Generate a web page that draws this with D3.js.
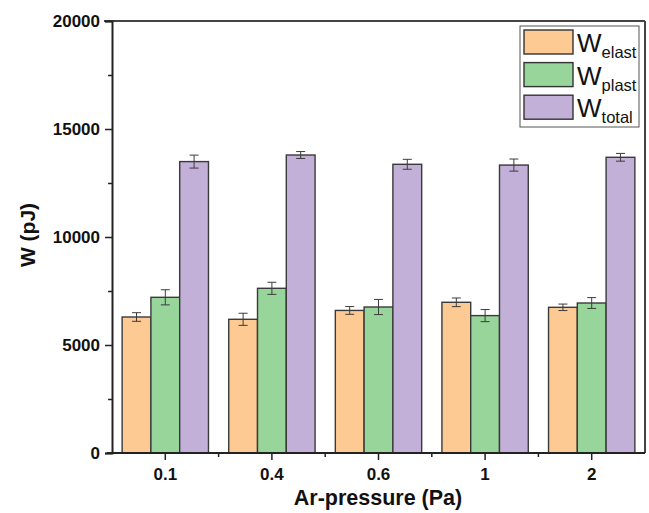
<!DOCTYPE html>
<html>
<head>
<meta charset="utf-8">
<script src="https://cdn.jsdelivr.net/npm/d3@7/dist/d3.min.js"></script>
<style>
  html, body { margin: 0; padding: 0; background: #fff; }
  svg { display: block; font-family: "Liberation Sans", Arial, sans-serif; }
</style>
</head>
<body>
<svg id="chart" width="649" height="513"></svg>
<script>
// Work of deformation per Ar pressure
const pressures = ["0.1", "0.4", "0.6", "1", "2"];
const seriesNames = ["elast", "plast", "total"];
const wElast = [6296, 6190, 6600, 6977, 6745];
const wPlast = [7208, 7625, 6759, 6361, 6944];
const wTotal = [13491, 13796, 13366, 13330, 13690];
const errElast = [200, 280, 180, 200, 150];
const errPlast = [350, 280, 350, 280, 250];
const errTotal = [300, 160, 230, 280, 180];
const yTicks = [0, 5000, 10000, 15000, 20000];
const yMinorTicks = [2500, 7500, 12500, 17500];
const colors = ["#fdca93", "#98d59b", "#c3b0d8"];

const values = [wElast, wPlast, wTotal];
const errors = [errElast, errPlast, errTotal];

const svg = d3.select("#chart");
const m = { left: 112, right: 645, top: 21, bottom: 453 };

const x = d3.scaleBand().domain(pressures).range([m.left, m.right]).paddingInner(0.19).paddingOuter(0.095);
const xs = d3.scaleBand().domain(d3.range(3)).range([0, x.bandwidth()]);
const y = d3.scaleLinear().domain([0, 20000]).range([m.bottom, m.top]);

// bars
const groups = svg.append("g").selectAll("g").data(pressures).join("g")
  .attr("transform", p => `translate(${x(p)},0)`);

groups.each(function(p, i) {
  const g = d3.select(this);
  for (let s = 0; s < 3; s++) {
    const v = values[s][i], e = errors[s][i];
    g.append("rect")
      .attr("x", xs(s)).attr("width", xs.bandwidth())
      .attr("y", y(v)).attr("height", y(0) - y(v))
      .attr("fill", colors[s]).attr("stroke", "#3a3a3a").attr("stroke-width", 1.4);
    const cx = xs(s) + xs.bandwidth() / 2;
    const eb = g.append("g").attr("stroke", "#3c3c3c").attr("stroke-width", 1).attr("fill", "none");
    eb.append("line").attr("x1", cx).attr("x2", cx).attr("y1", y(v + e)).attr("y2", y(v - e));
    eb.append("line").attr("x1", cx - 4.5).attr("x2", cx + 4.5).attr("y1", y(v + e)).attr("y2", y(v + e));
    eb.append("line").attr("x1", cx - 4.5).attr("x2", cx + 4.5).attr("y1", y(v - e)).attr("y2", y(v - e));
  }
});

// frame (top and right)
svg.append("line").attr("x1", m.left - 8).attr("x2", m.right).attr("y1", m.top).attr("y2", m.top)
  .attr("stroke", "#444").attr("stroke-width", 2);
svg.append("line").attr("x1", m.right).attr("x2", m.right).attr("y1", m.top).attr("y2", m.bottom)
  .attr("stroke", "#444").attr("stroke-width", 2);

// y axis
svg.append("g").attr("transform", `translate(${m.left},0)`)
  .call(d3.axisLeft(y).tickValues(yTicks).tickFormat(d3.format("d")).tickSize(7).tickPadding(5));
svg.append("g").attr("transform", `translate(${m.left},0)`)
  .call(d3.axisLeft(y).tickValues(yMinorTicks).tickFormat("").tickSize(4))
  .call(g => g.select(".domain").remove());

// x axis
const xAxis = svg.append("g").attr("transform", `translate(0,${m.bottom})`)
  .call(d3.axisBottom(x).tickSize(7).tickPadding(8));
const bounds = pressures.slice(1).map(p => x(p) - x.step() * x.paddingInner() / 2);
svg.append("g").selectAll("line").data(bounds).join("line")
  .attr("x1", d => d).attr("x2", d => d).attr("y1", m.bottom).attr("y2", m.bottom + 4)
  .attr("stroke", "#222").attr("stroke-width", 1.5);

svg.selectAll(".domain").attr("stroke", "#222").attr("stroke-width", 2);
svg.selectAll(".tick line").attr("stroke", "#222").attr("stroke-width", 1.5);
svg.selectAll(".tick text").attr("fill", "#111").style("font-size", "17px").style("font-weight", "bold");
xAxis.select(".domain").attr("d", `M${m.left - 5},0H${m.right}`);

// axis titles
svg.append("text").attr("transform", `translate(35,235) rotate(-90)`)
  .attr("text-anchor", "middle").style("font-size", "21px").style("font-weight", "bold").attr("fill", "#111")
  .text("W (pJ)");
svg.append("text").attr("x", 378).attr("y", 505)
  .attr("text-anchor", "middle").style("font-size", "21.5px").style("font-weight", "bold").attr("fill", "#111")
  .text("Ar-pressure (Pa)");

// legend
const lg = svg.append("g");
lg.append("rect").attr("x", 520).attr("y", 26).attr("width", 119).attr("height", 101)
  .attr("fill", "#fff").attr("stroke", "#555").attr("stroke-width", 1);
seriesNames.forEach((name, i) => {
  const yy = 30 + i * 32.6;
  lg.append("rect").attr("x", 524).attr("y", yy).attr("width", 49).attr("height", 24)
    .attr("fill", colors[i]).attr("stroke", "#333").attr("stroke-width", 1.4);
  const t = lg.append("text").attr("x", 577).attr("y", yy + 22).attr("fill", "#111").style("font-size", "26px");
  t.append("tspan").text("W");
  t.append("tspan").attr("dy", 6).style("font-size", "16.5px").text(name);
});
</script>
</body>
</html>
